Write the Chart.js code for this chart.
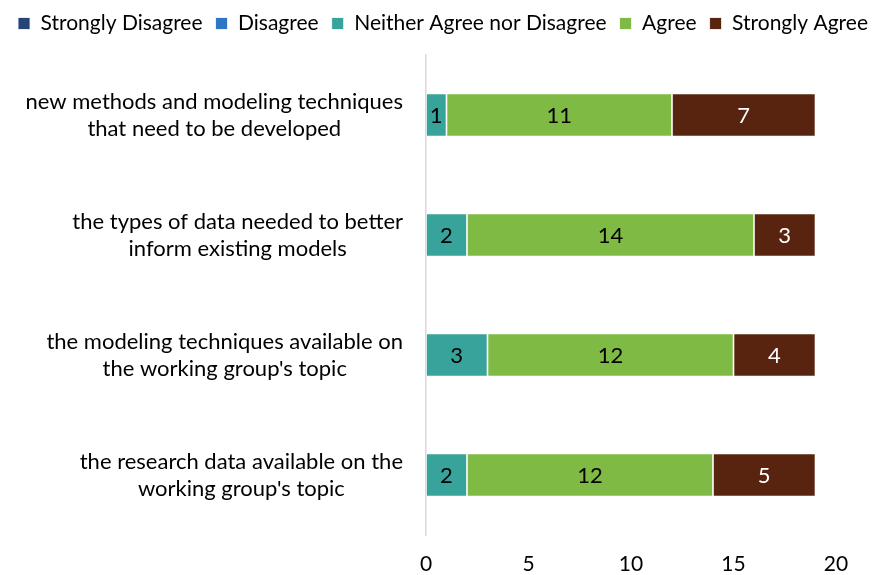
<!DOCTYPE html>
<html><head><meta charset="utf-8">
<script src="https://cdn.jsdelivr.net/npm/chart.js@4.4.0/dist/chart.umd.min.js"></script>
<style>html,body{margin:0;padding:0;background:#fff}#wrap{width:886px;height:575px}</style>
</head><body><div id="wrap"><canvas id="c"></canvas></div>
<script>
const categories = [
  ["new methods and modeling techniques", "that need to be developed"],
  ["the types of data needed to better", "inform existing models"],
  ["the modeling techniques available on", "the working group's topic"],
  ["the research data available on the", "working group's topic"]
];
const seriesNames = ["Strongly Disagree", "Disagree", "Neither Agree nor Disagree", "Agree", "Strongly Agree"];
const stronglyDisagree = [0, 0, 0, 0];
const disagree = [0, 0, 0, 0];
const neither = [1, 2, 3, 2];
const agree = [11, 14, 12, 12];
const stronglyAgree = [7, 3, 4, 5];
const xTicks = [0, 5, 10, 15, 20];

const colors = ["#264478", "#2E75C6", "#38A39A", "#7FBA45", "#58240F"];
const labelColors = ["#fff", "#fff", "#000", "#000", "#fff"];
const FONT = "Lato, 'Open Sans', sans-serif";

const valueLabels = {
  id: 'valueLabels',
  afterDatasetsDraw(chart) {
    const ctx = chart.ctx;
    ctx.save();
    ctx.font = "22px " + FONT;
    ctx.textAlign = 'center';
    ctx.textBaseline = 'middle';
    chart.data.datasets.forEach((ds, i) => {
      const meta = chart.getDatasetMeta(i);
      meta.data.forEach((bar, j) => {
        const v = ds.data[j];
        if (!v) return;
        ctx.fillStyle = labelColors[i];
        ctx.fillText(String(v), (bar.x + bar.base) / 2, bar.y + 1);
      });
    });
    ctx.restore();
  }
};

const catLabels = {
  id: 'catLabels',
  afterDraw(chart) {
    const ctx = chart.ctx;
    const ys = chart.scales.y;
    ctx.save();
    ctx.font = "22px " + FONT;
    ctx.fillStyle = '#000';
    ctx.textAlign = 'center';
    ctx.textBaseline = 'middle';
    const right = ys.right - 23;
    categories.forEach((lines, i) => {
      const yc = ys.getPixelForValue(i);
      const w = Math.max(...lines.map(l => ctx.measureText(l).width));
      const cx = right - w / 2;
      const lh = 27;
      lines.forEach((l, k) => {
        ctx.fillText(l, cx, yc + (k - (lines.length - 1) / 2) * lh);
      });
    });
    ctx.restore();
  }
};

const data = [stronglyDisagree, disagree, neither, agree, stronglyAgree];
new Chart(document.getElementById('c'), {
  type: 'bar',
  data: {
    labels: categories,
    datasets: seriesNames.map((n, i) => ({
      label: n,
      data: data[i],
      backgroundColor: colors[i],
      borderColor: '#ffffff',
      borderWidth: 0.8,
      borderSkipped: false,
      categoryPercentage: 1,
      barPercentage: 0.36
    }))
  },
  options: {
    indexAxis: 'y',
    responsive: true,
    maintainAspectRatio: false,
    animation: false,
    layout: { padding: { left: 0, right: 0, top: 0, bottom: 0 } },
    plugins: {
      legend: {
        position: 'top',
        align: 'center',
        labels: {
          font: { family: FONT, size: 21 },
          color: '#000',
          boxWidth: 12,
          boxHeight: 12,
          padding: 13
        }
      },
      tooltip: { enabled: false }
    },
    scales: {
      x: {
        stacked: true,
        min: 0, max: 20,
        grid: { display: false, drawTicks: false },
        border: { display: false },
        afterBuildTicks(s) { s.ticks = xTicks.map(v => ({ value: v })); },
        ticks: { font: { family: FONT, size: 21 }, color: '#000', padding: 17 },
        afterFit(s) { s.height = 40; }
      },
      y: {
        stacked: true,
        grid: { display: false, drawTicks: false },
        border: { display: true, color: '#d9d9d9', width: 1.5 },
        ticks: { display: false },
        afterFit(s) { s.width = 426; }
      },
      yRight: {
        position: 'right',
        grid: { display: false, drawTicks: false },
        border: { display: false },
        ticks: { display: false },
        afterFit(s) { s.width = 50; }
      }
    }
  },
  plugins: [valueLabels, catLabels, {
    id: 'legendGap',
    beforeInit(chart) {
      const orig = chart.legend.fit;
      chart.legend.fit = function () { orig.bind(chart.legend)(); this.height += 11; };
    }
  }]
});
</script></body></html>
